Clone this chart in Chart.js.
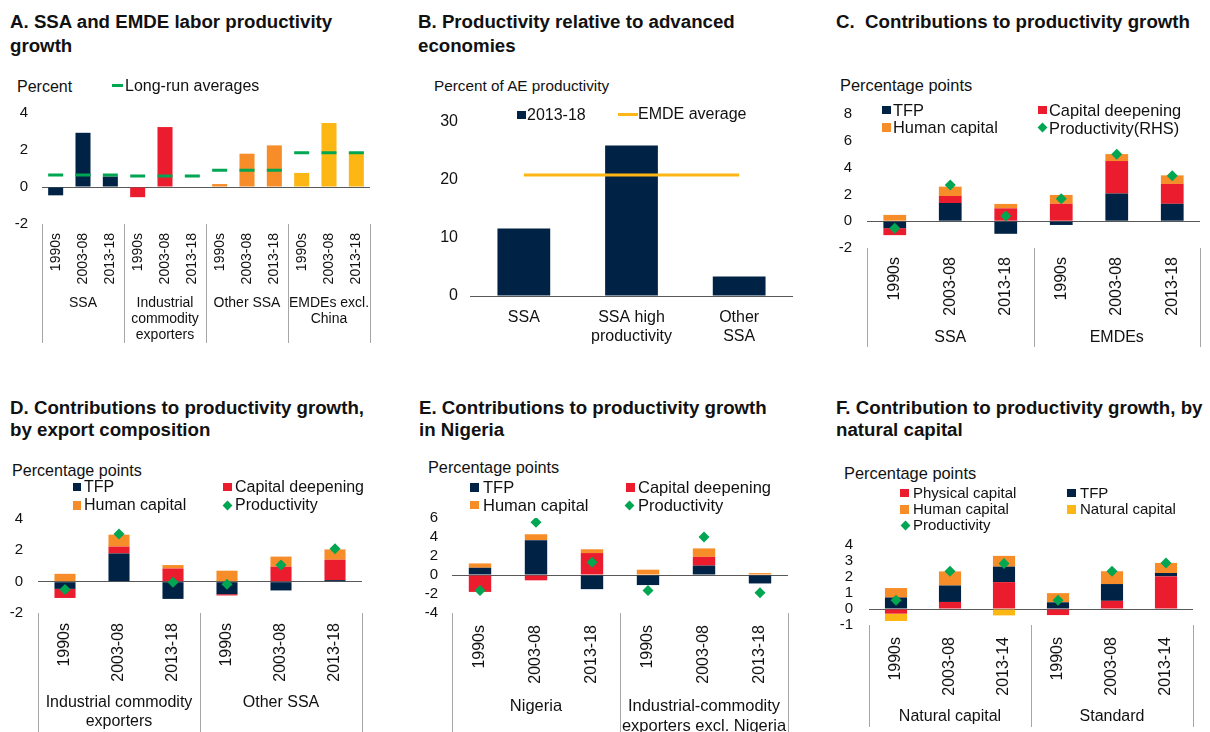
<!DOCTYPE html>
<html>
<head>
<meta charset="utf-8">
<script src="https://cdn.jsdelivr.net/npm/chart.js@4.4.1/dist/chart.umd.min.js"></script>
<style>
  body { margin: 0; background: #fff; font-family: 'Liberation Sans', Arial, sans-serif; color: #111; }
  #wrap { position: relative; width: 1210px; height: 732px; overflow: hidden; }
  canvas { position: absolute; }
  .t { position: absolute; font-weight: bold; font-size: 18.7px; white-space: nowrap; }
  .u, .lg { position: absolute; white-space: nowrap; line-height: 18px; }
  .mk { position: absolute; }
</style>
</head>
<body>
<div id="wrap">
  <div class="t" style="left:10px;top:10px;line-height:24px">A. SSA and EMDE labor productivity<br>growth</div>
  <div class="t" style="left:418px;top:10px;line-height:24px">B. Productivity relative to advanced<br>economies</div>
  <div class="t" style="left:836px;top:10px;line-height:24px">C.&nbsp; Contributions to productivity growth</div>
  <div class="t" style="left:10px;top:397px;line-height:22px">D. Contributions to productivity growth,<br>by export composition</div>
  <div class="t" style="left:419px;top:397px;line-height:22px">E. Contributions to productivity growth<br>in Nigeria</div>
  <div class="t" style="left:836px;top:397px;line-height:22px">F. Contribution to productivity growth, by<br>natural capital</div>

  <div class="u" style="left:17px;top:78px;font-size:16px">Percent</div>
  <div class="u" style="left:434px;top:77px;font-size:15.3px">Percent of AE productivity</div>
  <div class="u" style="left:840px;top:76px;font-size:16.4px">Percentage points</div>
  <div class="u" style="left:12px;top:461px;font-size:16.1px">Percentage points</div>
  <div class="u" style="left:428px;top:458px;font-size:16.3px">Percentage points</div>
  <div class="u" style="left:844px;top:464px;font-size:16.4px">Percentage points</div>
</div>
<script>
// ---- data ----
// A. labor productivity growth (percent)
const periods = ['1990s', '2003-08', '2013-18'];
const periodsF = ['1990s', '2003-08', '2013-14'];
const groupsA = [['SSA'], ['Industrial', 'commodity', 'exporters'], ['Other SSA'], ['EMDEs excl.', 'China']];
const growthA = [-0.45, 2.93, 0.57, -0.55, 3.24, 0, 0.16, 1.8, 2.25, 0.76, 3.46, 1.87];
const longRunA = [0.65, 0.65, 0.65, 0.59, 0.59, 0.59, 0.9, 0.9, 0.9, 1.85, 1.85, 1.85];

// B. productivity relative to advanced economies
const catsB = ['SSA', ['SSA high', 'productivity'], ['Other', 'SSA']];
const levelB = [11.6, 25.9, 3.35];
const emdeAvgB = [20.8, 20.8, 20.8];

// C. contributions to productivity growth
const groupsC = [['SSA'], ['EMDEs']];
const tfpC = [-0.52, 1.36, -0.94, -0.28, 2.07, 1.3];
const capC = [-0.52, 0.52, 0.96, 1.3, 2.42, 1.48];
const humC = [0.47, 0.7, 0.33, 0.66, 0.52, 0.64];
const prodC = [-0.52, 2.7, 0.38, 1.67, 5.0, 3.4];

// D. by export composition
const groupsD = [['Industrial commodity', 'exporters'], ['Other SSA']];
const tfpD = [-0.46, 1.8, -1.1, -0.8, -0.56, 0.1];
const capD = [-0.58, 0.44, 0.84, -0.08, 0.96, 1.3];
const humD = [0.5, 0.76, 0.22, 0.7, 0.64, 0.66];
const prodD = [-0.5, 3.04, -0.04, -0.16, 1.06, 2.1];

// E. Nigeria
const groupsE = [['Nigeria'], ['Industrial-commodity', 'exporters excl. Nigeria']];
const tfpE = [0.76, 3.66, -1.49, -1.06, 0.99, -0.89];
const capE = [-1.78, -0.56, 2.31, 0, 0.92, 0];
const humE = [0.46, 0.63, 0.4, 0.56, 0.89, 0.2];
const prodE = [-1.62, 5.54, 1.35, -1.62, 4.0, -1.88];

// F. natural capital
const groupsF = [['Natural capital'], ['Standard']];
const physF = [-0.29, 0.44, 1.68, -0.38, 0.51, 2.04];
const tfpF = [0.72, 1.03, 0.97, 0.42, 1.05, 0.21];
const humF = [0.59, 0.88, 0.67, 0.57, 0.8, 0.63];
const natF = [-0.46, 0, -0.4, 0, 0, 0];
const prodF = [0.55, 2.36, 2.84, 0.55, 2.36, 2.88];

// ---- colours ----
const NAVY = '#002345', RED = '#EB1C2D', ORANGE = '#F78D28', YELLOW = '#FDB714', GREEN = '#00A651';

Chart.defaults.font.family = '"Liberation Sans", Arial, sans-serif';
Chart.defaults.color = '#111';

const wrap = document.getElementById('wrap');

// group labels + separators under the x axis
const groupPlugin = {
  id: 'groups',
  afterDraw(chart, args, o) {
    if (!o || !o.sizes) return;
    const ctx = chart.ctx, xs = chart.scales.x, bottom = chart.chartArea.bottom;
    const edge = i => Math.round(xs.getPixelForValue(i - 0.5)) + 0.5;
    ctx.save();
    ctx.strokeStyle = '#A6A6A6';
    ctx.lineWidth = 1;
    ctx.fillStyle = '#111';
    ctx.font = o.font + 'px "Liberation Sans", Arial, sans-serif';
    ctx.textAlign = 'center';
    ctx.textBaseline = 'middle';
    ctx.beginPath();
    ctx.moveTo(edge(0), bottom);
    ctx.lineTo(edge(0), o.lineBottom);
    let start = 0;
    o.sizes.forEach((n, g) => {
      const end = start + n;
      ctx.moveTo(edge(end), bottom);
      ctx.lineTo(edge(end), o.lineBottom);
      const cx = xs.getPixelForValue((start + end - 1) / 2);
      o.names[g].forEach((line, k) => ctx.fillText(line, cx, o.labelY + k * o.lineHeight));
      start = end;
    });
    ctx.stroke();
    ctx.restore();
  }
};

function makePanel(p, labels, datasets) {
  const cv = document.createElement('canvas');
  cv.width = p.w; cv.height = p.h;
  cv.style.left = p.left + 'px'; cv.style.top = p.top + 'px';
  cv.style.width = p.w + 'px'; cv.style.height = p.h + 'px';
  wrap.appendChild(cv);
  const groups = p.groups ? {
    sizes: p.groups.map(() => labels.length / p.groups.length),
    names: p.groups,
    lineBottom: p.sepBottom - p.top,
    labelY: p.grpY - p.top,
    lineHeight: p.grpLH || 18,
    font: p.grpFont
  } : {};
  return new Chart(cv, {
    data: { labels: labels, datasets: datasets },
    options: {
      responsive: false,
      animation: false,
      layout: { padding: { top: p.yTop - p.top, right: p.left + p.w - p.x1, left: 0, bottom: 0 } },
      plugins: { legend: { display: false }, tooltip: { enabled: false }, groups: groups },
      scales: {
        x: {
          stacked: p.stacked,
          grid: { display: false, drawTicks: false },
          border: { display: false },
          ticks: { autoSkip: false, minRotation: p.rot, maxRotation: p.rot, padding: p.xPad, font: { size: p.xFont } },
          afterFit: s => { s.height = p.top + p.h - p.yBot; }
        },
        y: {
          stacked: p.stacked,
          min: p.min, max: p.max,
          ticks: { autoSkip: false, stepSize: p.step, padding: p.yPad, font: { size: p.yFont || 15 } },
          grid: { drawTicks: false, color: c => (c.tick && c.tick.value === 0 ? '#595959' : 'rgba(0,0,0,0)') },
          border: { display: false },
          afterFit: s => { s.width = p.x0 - p.left; }
        }
      }
    },
    plugins: [groupPlugin]
  });
}

function bar(label, data, color, pct) {
  return { type: 'bar', label: label, data: data, backgroundColor: color, borderWidth: 0,
           barPercentage: pct, categoryPercentage: 1, order: 1 };
}
function diamonds(data) {
  return { type: 'line', label: 'Productivity', data: data, showLine: false, stack: 'prod', order: 0,
           pointStyle: 'rectRot', pointRadius: 5.5, pointBackgroundColor: GREEN, pointBorderWidth: 0 };
}

// legend pieces (html)
function legend(items, size) {
  items.forEach(it => {
    const m = document.createElement('div');
    m.className = 'mk';
    if (it.k === 'sq') {
      Object.assign(m.style, { left: it.x + 'px', top: (it.y - 4) + 'px', width: '8.5px', height: '8.5px', background: it.c });
    } else if (it.k === 'dia') {
      Object.assign(m.style, { left: (it.x - 3.5) + 'px', top: (it.y - 3.5) + 'px', width: '7px', height: '7px', background: it.c, transform: 'rotate(45deg)' });
    } else {
      Object.assign(m.style, { left: it.x + 'px', top: (it.y - 1.5) + 'px', width: it.w + 'px', height: '3px', background: it.c });
    }
    wrap.appendChild(m);
    const t = document.createElement('div');
    t.className = 'lg';
    t.style.left = it.tx + 'px';
    t.style.top = (it.y - 9) + 'px';
    t.style.fontSize = size + 'px';
    t.textContent = it.t;
    wrap.appendChild(t);
  });
}

// ---- A ----
const colorsA = [NAVY, NAVY, NAVY, RED, RED, RED, ORANGE, ORANGE, ORANGE, YELLOW, YELLOW, YELLOW];
makePanel(
  { left: 0, top: 90, w: 400, h: 260, x0: 42, x1: 370, yTop: 108, yBot: 224, yPad: 14, xPad: 9, xFont: 14, rot: 90,
    min: -2, max: 4, step: 2, stacked: false, groups: groupsA, sepBottom: 343, grpY: 303, grpLH: 16.3, grpFont: 14 },
  [].concat(periods, periods, periods, periods),
  [
    { type: 'line', label: 'Long-run averages', data: longRunA, showLine: false, order: 0,
      pointStyle: 'line', pointRadius: 7.5, pointBorderWidth: 3, pointBorderColor: GREEN },
    bar('Growth', growthA, colorsA, 0.55)
  ]
);
legend([{ k: 'line', x: 112, y: 85.5, w: 11, c: GREEN, tx: 125, t: 'Long-run averages' }], 16);

// ---- B ----
makePanel(
  { left: 410, top: 100, w: 400, h: 250, x0: 470, x1: 793, yTop: 117, yBot: 296, yPad: 12, xPad: 12, xFont: 16, rot: 0,
    min: 0, max: 30, step: 10, yFont: 16, stacked: false },
  catsB,
  [
    { type: 'line', label: 'EMDE average', data: emdeAvgB, borderColor: YELLOW, borderWidth: 3, pointRadius: 0, order: 0 },
    bar('2013-18', levelB, NAVY, 0.49)
  ]
);
legend([
  { k: 'sq', x: 517, y: 114.5, c: NAVY, tx: 527, t: '2013-18' },
  { k: 'line', x: 618, y: 114, w: 20, c: YELLOW, tx: 638, t: 'EMDE average' }
], 16);

// ---- C ----
makePanel(
  { left: 820, top: 90, w: 390, h: 265, x0: 867, x1: 1200, yTop: 105, yBot: 248, yPad: 15, xPad: 9, xFont: 16, rot: 90,
    min: -2, max: 8, step: 2, stacked: true, groups: groupsC, sepBottom: 347, grpY: 338, grpFont: 16 },
  [].concat(periods, periods),
  [diamonds(prodC), bar('TFP', tfpC, NAVY, 0.41), bar('Capital deepening', capC, RED, 0.41), bar('Human capital', humC, ORANGE, 0.41)]
);
legend([
  { k: 'sq', x: 882, y: 109.5, c: NAVY, tx: 893, t: 'TFP' },
  { k: 'sq', x: 1038, y: 109.5, c: RED, tx: 1049, t: 'Capital deepening' },
  { k: 'sq', x: 882, y: 127, c: ORANGE, tx: 893, t: 'Human capital' },
  { k: 'dia', x: 1042, y: 127.5, c: GREEN, tx: 1049, t: 'Productivity(RHS)' }
], 16.4);

// ---- D ----
makePanel(
  { left: 0, top: 495, w: 400, h: 237, x0: 38, x1: 362, yTop: 513, yBot: 613, yPad: 15, xPad: 10, xFont: 16, rot: 90,
    min: -2, max: 4, step: 2, stacked: true, groups: groupsD, sepBottom: 732, grpY: 703, grpLH: 18.5, grpFont: 16 },
  [].concat(periods, periods),
  [diamonds(prodD), bar('TFP', tfpD, NAVY, 0.39), bar('Capital deepening', capD, RED, 0.39), bar('Human capital', humD, ORANGE, 0.39)]
);
legend([
  { k: 'sq', x: 72.5, y: 486.5, c: NAVY, tx: 84, t: 'TFP' },
  { k: 'sq', x: 223, y: 486.5, c: RED, tx: 235, t: 'Capital deepening' },
  { k: 'sq', x: 72.5, y: 505, c: ORANGE, tx: 84, t: 'Human capital' },
  { k: 'dia', x: 227, y: 505, c: GREEN, tx: 235, t: 'Productivity' }
], 16);

// ---- E ----
makePanel(
  { left: 410, top: 495, w: 400, h: 237, x0: 452, x1: 788, yTop: 513, yBot: 613, yPad: 14, xPad: 12, xFont: 16, rot: 90,
    min: -4, max: 6, step: 2, stacked: true, groups: groupsE, sepBottom: 732, grpY: 706, grpLH: 20, grpFont: 16.5 },
  [].concat(periods, periods),
  [diamonds(prodE), bar('TFP', tfpE, NAVY, 0.4), bar('Capital deepening', capE, RED, 0.4), bar('Human capital', humE, ORANGE, 0.4)]
);
legend([
  { k: 'sq', x: 470, y: 487, c: NAVY, tx: 483, t: 'TFP' },
  { k: 'sq', x: 626, y: 487, c: RED, tx: 638, t: 'Capital deepening' },
  { k: 'sq', x: 470, y: 504.5, c: ORANGE, tx: 483, t: 'Human capital' },
  { k: 'dia', x: 629, y: 505, c: GREEN, tx: 638, t: 'Productivity' }
], 16.5);

// ---- F ----
makePanel(
  { left: 820, top: 520, w: 390, h: 212, x0: 869, x1: 1193, yTop: 537, yBot: 625, yPad: 16, xPad: 12, xFont: 16, rot: 90,
    min: -1, max: 4, step: 1, stacked: true, groups: groupsF, sepBottom: 727, grpY: 717, grpFont: 16 },
  [].concat(periodsF, periodsF),
  [diamonds(prodF), bar('Physical capital', physF, RED, 0.41), bar('TFP', tfpF, NAVY, 0.41),
   bar('Human capital', humF, ORANGE, 0.41), bar('Natural capital', natF, YELLOW, 0.41)]
);
legend([
  { k: 'sq', x: 900, y: 492.7, c: RED, tx: 913, t: 'Physical capital' },
  { k: 'sq', x: 1067, y: 492.7, c: NAVY, tx: 1080, t: 'TFP' },
  { k: 'sq', x: 900, y: 509, c: ORANGE, tx: 913, t: 'Human capital' },
  { k: 'sq', x: 1067, y: 509, c: YELLOW, tx: 1080, t: 'Natural capital' },
  { k: 'dia', x: 905, y: 525, c: GREEN, tx: 913, t: 'Productivity' }
], 15);
</script>
</body>
</html>
